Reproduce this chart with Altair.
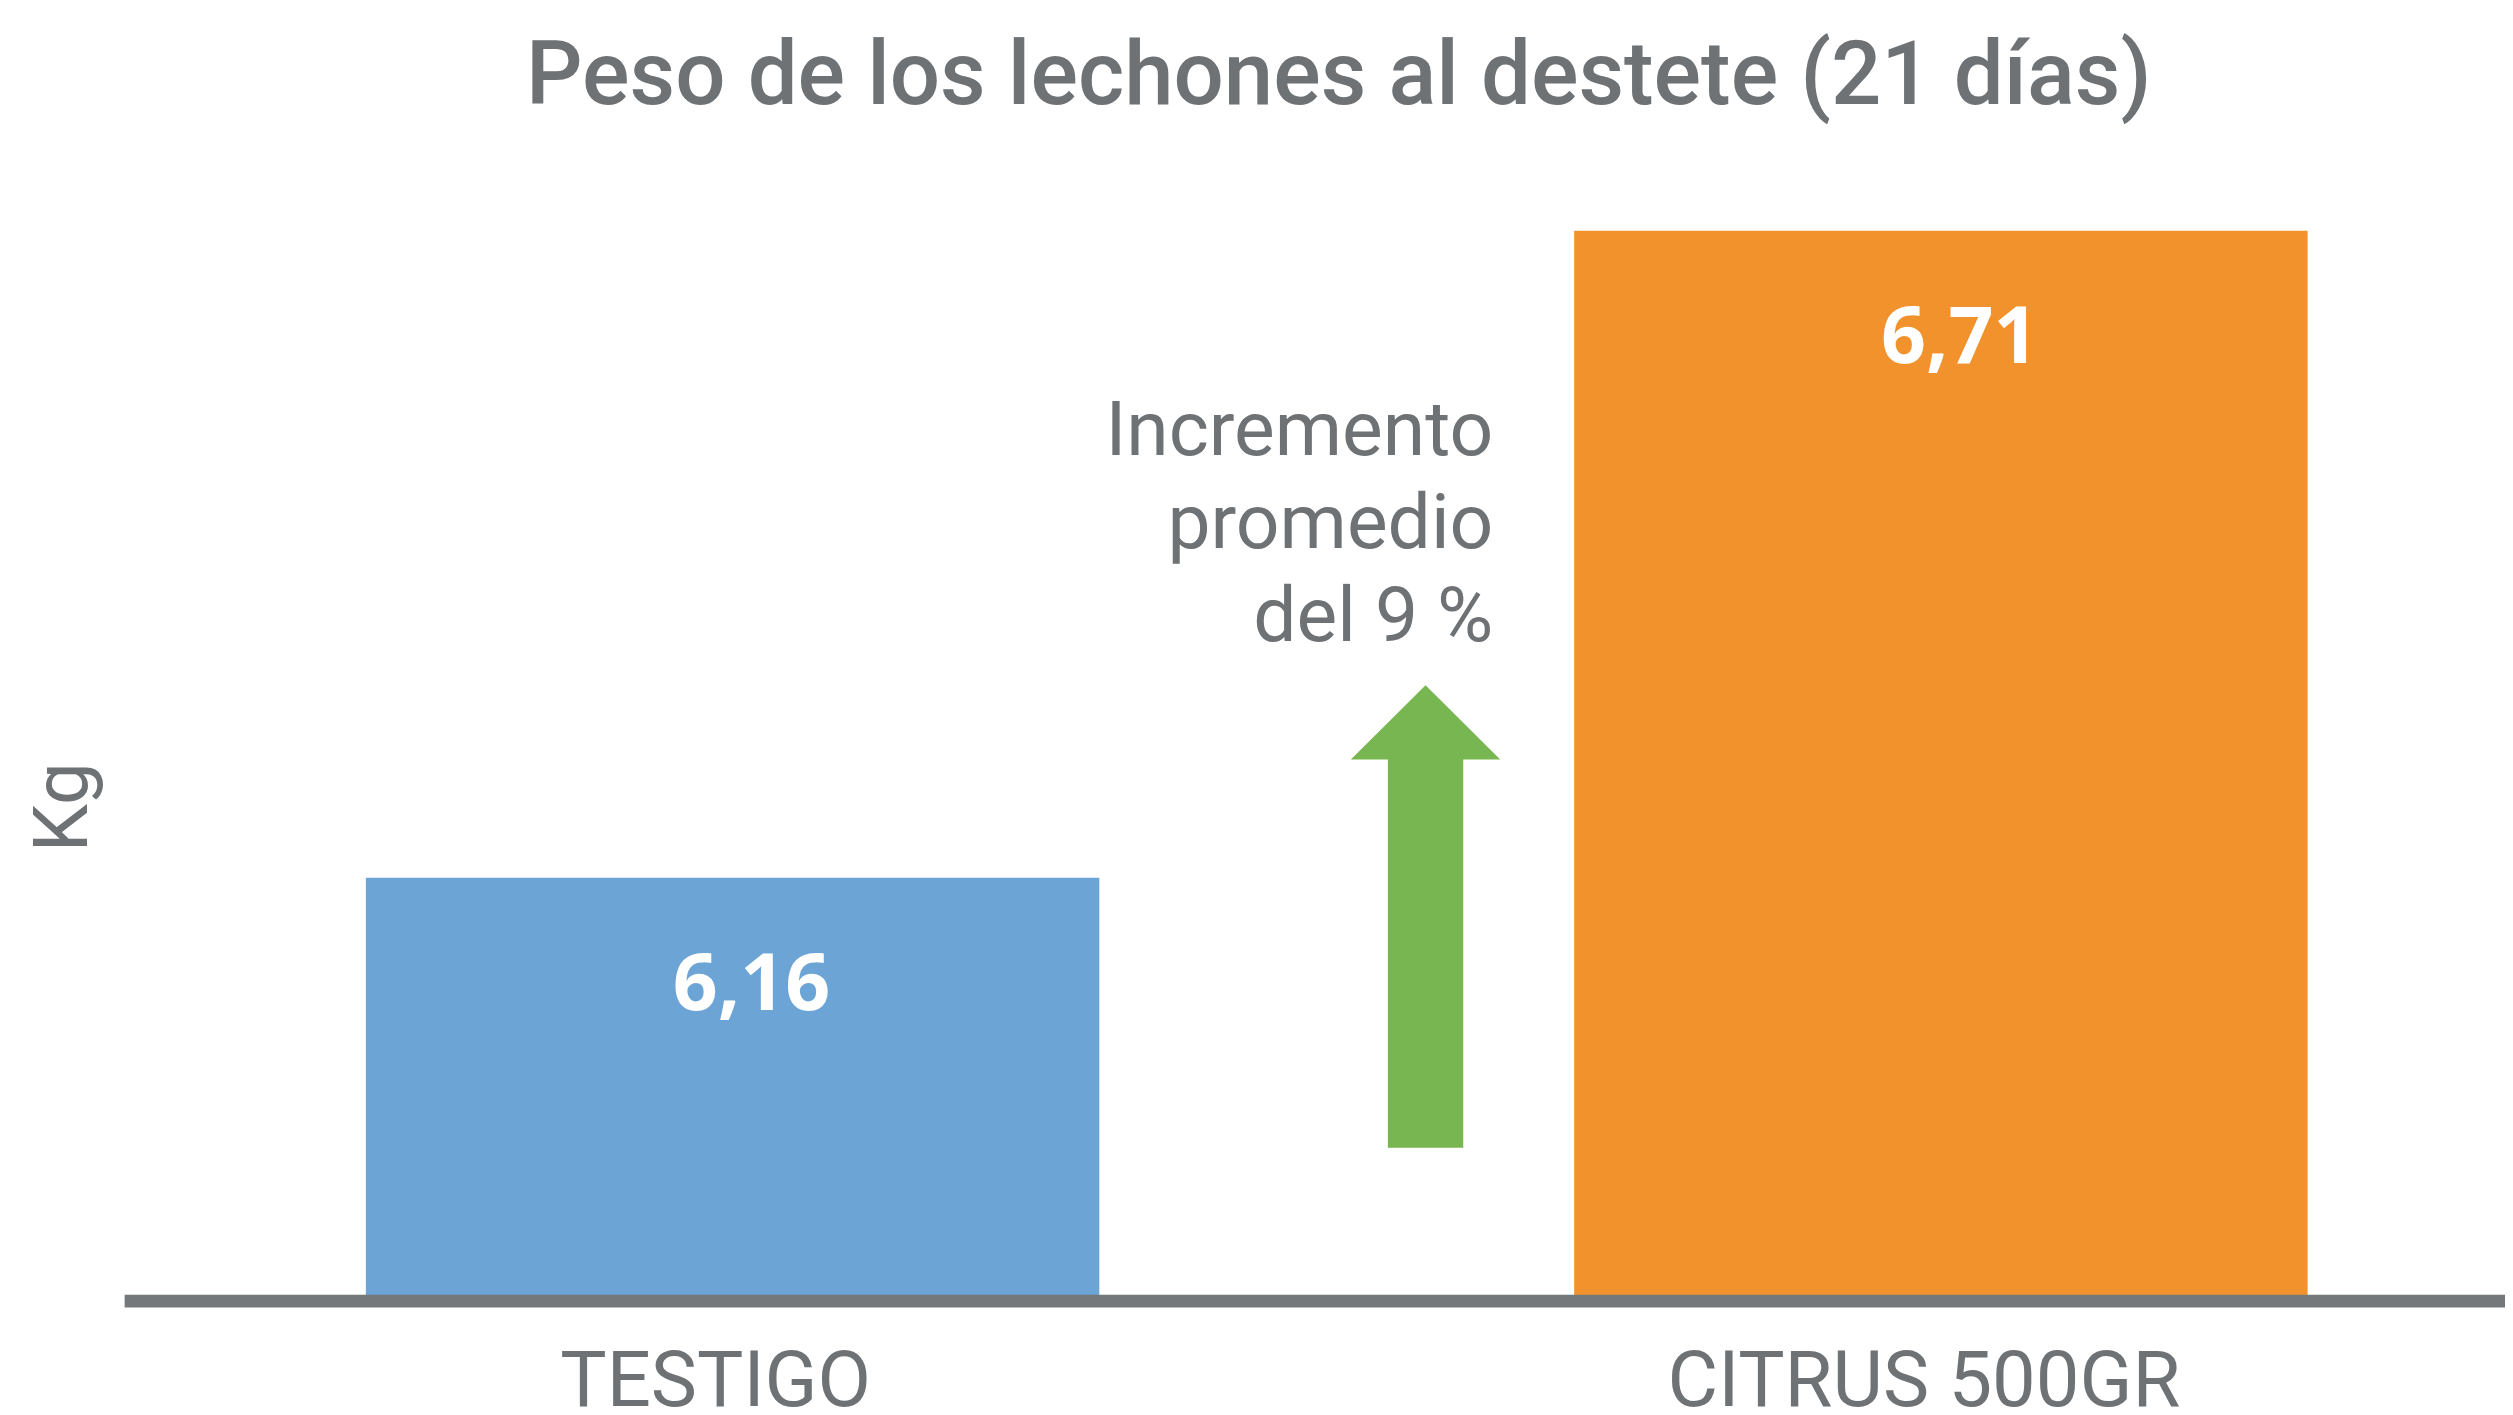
import altair as alt
import pandas as pd

categories = ["TESTIGO", "CITRUS 500GR"]
values = [6.16, 6.71]
value_labels = ["6,16", "6,71"]
bar_colors = ["#6CA4D5", "#F2922D"]
base_value = 5.8
top_value = 6.8
title_text = "Peso de los lechones al destete (21 días)"
note_lines = ["Incremento", "promedio", "del 9 %"]
note_y = 6.519
arrow_y = 6.127
y_title = "Kg"

GRAY = "#6E7275"

df = pd.DataFrame({
    "cat": categories,
    "val": values,
    "lab": value_labels,
    "base": [base_value] * len(values),
})

xscale = alt.Scale(domain=categories, paddingInner=0.393, paddingOuter=0.1815)
yscale = alt.Scale(domain=[base_value, top_value], zero=False, nice=False)

x_enc = alt.X("cat:N", scale=xscale, sort=categories,
              axis=alt.Axis(title=None, ticks=False, tickSize=0, domain=False, labelAngle=0,
                            labelFont="Roboto", labelFontSize=78, labelFontWeight=400,
                            labelColor=GRAY, labelPadding=105, labelBaseline="alphabetic",
                            labelLimit=0, labelOffset=5))
y_enc = alt.Y("val:Q", scale=yscale,
              axis=alt.Axis(title=y_title, labels=False, ticks=False, domain=False, grid=False,
                            titleFont="Roboto", titleFontSize=77, titleFontWeight=400,
                            titleColor=GRAY, titleAngle=270, titleAlign="center",
                            titleBaseline="middle", titleX=-61, titleY=684))

base = alt.Chart(df)

bars = base.mark_bar(xOffset=22).encode(
    x=x_enc,
    y=y_enc,
    y2="base:Q",
    color=alt.Color("cat:N", scale=alt.Scale(domain=categories, range=bar_colors), legend=None),
)

labels = base.mark_text(font="Open Sans", fontSize=79, fontWeight="bold", color="white",
                        baseline="alphabetic", dy=133, dx=41).encode(
    x=alt.X("cat:N", scale=xscale, sort=categories),
    y=alt.Y("val:Q", scale=yscale),
    text="lab:N",
)

axis_line = alt.Chart(pd.DataFrame({"b": [base_value]})).mark_rule(
    color="#75787A", strokeWidth=13).encode(y=alt.Y("b:Q", scale=yscale))

note = alt.Chart(pd.DataFrame({"t": [note_lines], "c": [categories[1]], "y": [note_y]})).mark_text(
    font="Roboto", fontSize=77, color=GRAY, align="right", baseline="alphabetic",
    lineHeight=93, dx=-427).encode(
    x=alt.X("c:N", scale=xscale, sort=categories),
    y=alt.Y("y:Q", scale=yscale),
    text="t",
)

arrow_path = ("M0,-1 L0.323,-0.679 L0.163,-0.679 L0.163,1 L-0.163,1 "
              "L-0.163,-0.679 L-0.323,-0.679 Z")
arrow = alt.Chart(pd.DataFrame({"c": [categories[1]], "y": [arrow_y]})).mark_point(
    shape=arrow_path, filled=True, size=215296, color="#78B652", opacity=1, strokeWidth=0,
    xOffset=-495).encode(
    x=alt.X("c:N", scale=xscale, sort=categories),
    y=alt.Y("y:Q", scale=yscale),
)

chart = alt.layer(bars, axis_line, labels, note, arrow).properties(
    width=2388,
    height=1180,
    background="white",
    title=alt.TitleParams(title_text, font="Roboto", fontSize=89, fontWeight=500, color=GRAY,
                          anchor="middle", dx=24, dy=82, offset=14, baseline="alphabetic"),
    autosize=alt.AutoSizeParams(type="none"),
    padding={"left": 117, "top": 115, "right": 0, "bottom": 112},
).configure_view(stroke=None)

chart.save("out.html", embed_options={"renderer": "svg", "actions": False})
